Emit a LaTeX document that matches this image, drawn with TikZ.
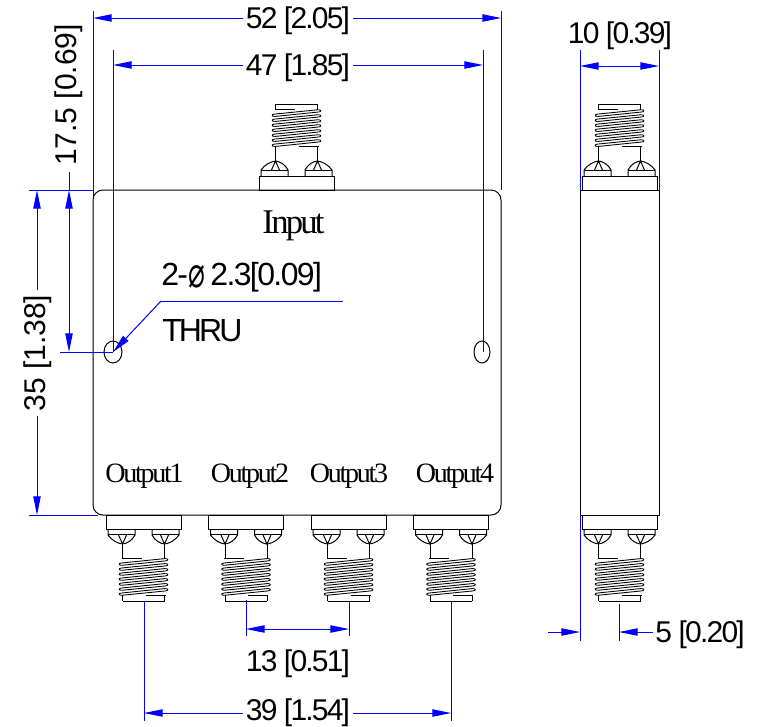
\documentclass[tikz,border=0pt]{standalone}
\usepackage{fontspec}
\usetikzlibrary{arrows.meta}
\setmainfont{Liberation Sans}
\newfontfamily\dimfont[LetterSpace=-6]{Liberation Sans}
\newfontfamily\holefont[LetterSpace=-5]{Liberation Sans}
\newfontfamily\tightfont[LetterSpace=-9]{Liberation Sans}
\newfontfamily\serfont[LetterSpace=-8]{Liberation Serif}
\newfontfamily\symfont{DejaVu Sans}
\definecolor{dimblue}{RGB}{0,0,255}
\tikzset{
  x=0.75pt,y=-0.75pt,
  part/.style={draw=black,line width=0.75pt},
  thread/.style={draw=black,line width=0.65pt},
  dimline/.style={draw=dimblue,line width=0.75pt,-{Triangle[length=14pt,width=5.5pt]}},
  dimboth/.style={draw=dimblue,line width=0.75pt,{Triangle[length=14pt,width=5.5pt]}-{Triangle[length=14pt,width=5.5pt]}},
  extline/.style={draw=dimblue,line width=0.75pt},
  dimlabel/.style={font=\dimfont\fontsize{22.5pt}{24pt}\selectfont,inner sep=2pt,text=black,anchor=base},
  rotlabel/.style={font=\rmfamily\fontsize{22.5pt}{24pt}\selectfont,inner sep=3pt,text=black,anchor=base,rotate=90},
  holelabel/.style={font=\holefont\fontsize{24pt}{26pt}\selectfont,inner sep=0pt,text=black,anchor=base west},
  outlabel/.style={font=\serfont\fontsize{21pt}{23pt}\selectfont,inner sep=0pt,text=black,anchor=base},
  inlabel/.style={font=\serfont\fontsize{26pt}{28pt}\selectfont,inner sep=0pt,text=black,anchor=base},
  conn/.pic={
    \draw[part] (-37.5,0) rectangle (37.5,14);
    \foreach \s in {-1,1}{
      \draw[part] (\s*35.5,14) -- (\s*35.5,20) .. controls (\s*32,25) and (\s*26,28.5) .. (\s*21,29)
         .. controls (\s*16,28.5) and (\s*11,25) .. (\s*8.5,20) -- (\s*8.5,14);
      \draw[part] (\s*35.5,19.5) -- (\s*8.5,19.5);
      \draw[part] (\s*25,20) -- (\s*21,29) -- (\s*17,20);
      \draw[part] (\s*21,29) -- (\s*21,43);
      \draw[part] (\s*21,80) -- (\s*21,86);
    }
    \draw[part] (-21,86) -- (21,86);
    \foreach \i in {0,...,6}{
      \pgfmathsetmacro{\ya}{43.5+5*\i}
      \draw[thread] (-22,\ya+4.5) -- (22,\ya);
      \draw[thread] (-22,\ya+6.8) -- (22,\ya+2.4);
      \draw[thread] (-22,\ya+4.5) .. controls (-25,\ya+4.7) and (-25,\ya+6.6) .. (-22,\ya+6.8);
      \draw[thread] (22,\ya) .. controls (25,\ya+0.2) and (25,\ya+2.2) .. (22,\ya+2.4);
    }
    \draw[line width=1.2pt] (-22,43.5) -- (-2,43.5);
    \draw[line width=1.2pt] (2,80.5) -- (22,80.5);
  }
}
\begin{document}
\begin{tikzpicture}
\useasboundingbox (0,0) rectangle (759,726);
% body, front view
\draw[part,rounded corners=7.5pt] (93,190) rectangle (501,515);
\draw[part] (113,352) ellipse [x radius=9,y radius=11];
\draw[part] (482,352) ellipse [x radius=8,y radius=11];
% body, side view
\draw[part] (580.5,190) rectangle (659,515);
% connectors
\pic[rotate=180] at (296.5,190) {conn};
\pic at (143.5,515) {conn};
\pic at (246,515) {conn};
\pic at (348.5,515) {conn};
\pic at (451,515) {conn};
\pic[rotate=180] at (619.5,190) {conn};
\pic at (619.5,515) {conn};
% text
\node[inlabel] (input) at (293.5,233) {Input};
\node[outlabel] (out1) at (144.5,482) {Output1};
\node[outlabel] (out2) at (250,482) {Output2};
\node[outlabel] (out3) at (349,482) {Output3};
\node[outlabel] (out4) at (455,482) {Output4};
\node[holelabel] (hole) at (161,285) {2-\raisebox{-2pt}{\symfont\scalebox{0.75}[1.15]{\fontsize{28pt}{28pt}\selectfont ⌀}}\,2.3[0.09]};
\node[holelabel,font=\tightfont\fontsize{24pt}{26pt}\selectfont] (thru) at (162,341) {THRU};
% coordinates
\coordinate (l0) at (93,11);  \coordinate (l1) at (93,197);
\coordinate (r0) at (501,11); \coordinate (r1) at (501,190);
\coordinate (a52) at (93,18); \coordinate (b52) at (501,18);
\coordinate (h0) at (113,50); \coordinate (h1) at (113,352);
\coordinate (i0) at (483,50); \coordinate (i1) at (483,352);
\coordinate (a47) at (113,65); \coordinate (b47) at (483,65);
\coordinate (s0) at (580,50); \coordinate (s1) at (580,190);
\coordinate (t0) at (659,50); \coordinate (t1) at (659,190);
\coordinate (a10) at (580,66); \coordinate (b10) at (659,66);
\coordinate (e0) at (29,190); \coordinate (e1) at (93,190);
\coordinate (f0) at (60,352); \coordinate (f1) at (113,352);
\coordinate (g0) at (29,515); \coordinate (g1) at (98,515);
\coordinate (a35) at (37,190); \coordinate (b35) at (37,515);
\coordinate (a17) at (69,190); \coordinate (b17) at (69,352);
\coordinate (a17t) at (69,172);
\coordinate (u0) at (246,600); \coordinate (u1) at (246,636);
\coordinate (v0) at (349,602); \coordinate (v1) at (349,636);
\coordinate (w0) at (144,601); \coordinate (w1) at (144,721);
\coordinate (z0) at (451,601); \coordinate (z1) at (451,721);
\coordinate (a13) at (246,629); \coordinate (b13) at (349,629);
\coordinate (a39) at (144,713); \coordinate (b39) at (451,713);
\coordinate (p0) at (580,515); \coordinate (p1) at (580,641);
\coordinate (q0) at (619,604); \coordinate (q1) at (619,641);
\coordinate (a5) at (580,632); \coordinate (b5) at (619,632);
\coordinate (a5o) at (548,632);
\coordinate (k0) at (161,301); \coordinate (k1) at (343,301);
% extension lines
\foreach \a/\b in {l0/l1,r0/r1,h0/h1,i0/i1,s0/s1,t0/t1,e0/e1,f0/f1,g0/g1,u0/u1,v0/v1,w0/w1,z0/z1,p0/p1,q0/q1}
  \draw[extline] (\a) -- (\b);
% dimension labels
\node[dimlabel] (d52) at (298,28) {52 [2.05]};
\node[dimlabel] (d47) at (298,75) {47 [1.85]};
\node[dimlabel] (d10) at (620,43) {10 [0.39]};
\node[rotlabel] (d17) at (76.5,95) {17.5 [0.69]};
\node[rotlabel] (d35) at (45,353) {35 [1.38]};
\node[dimlabel] (d13) at (298,671) {13 [0.51]};
\node[dimlabel] (d39) at (298,720.5) {39 [1.54]};
\node[dimlabel,anchor=base west] (d5) at (652.5,642) {5 [0.20]};
% dimension lines
\draw[dimline] (d52.west |- a52) -- (a52);
\draw[dimline] (d52.east |- b52) -- (b52);
\draw[dimline] (d47.west |- a47) -- (a47);
\draw[dimline] (d47.east |- b47) -- (b47);
\draw[dimboth] (a10) -- (b10);
\draw[dimboth] (a17) -- (b17);
\draw[extline] (a17) -- (a17t);
\draw[dimline] (a35 |- d35.east) -- (a35);
\draw[dimline] (b35 |- d35.west) -- (b35);
\draw[dimboth] (a13) -- (b13);
\draw[dimline] (d39.west |- a39) -- (a39);
\draw[dimline] (d39.east |- b39) -- (b39);
\draw[dimline] (a5o) -- (a5);
\draw[dimline] (d5.west |- b5) -- (b5);
\draw[extline] (k1) -- (k0);
\draw[dimline] (k0) -- (h1);
\end{tikzpicture}
\end{document}
